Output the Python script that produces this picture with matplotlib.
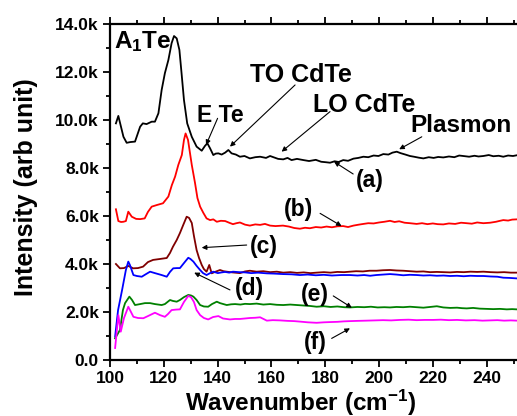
import matplotlib
matplotlib.use('Agg')
import matplotlib.pyplot as plt
from matplotlib.ticker import MultipleLocator, FuncFormatter

plt.rcParams['font.family'] = ['Liberation Sans', 'DejaVu Sans']
plt.rcParams['font.weight'] = 'bold'
plt.rcParams['mathtext.fontset'] = 'custom'
plt.rcParams['mathtext.rm'] = 'Liberation Sans:bold'
plt.rcParams['mathtext.it'] = 'Liberation Sans:bold'
plt.rcParams['mathtext.bf'] = 'Liberation Sans:bold'
plt.rcParams['mathtext.default'] = 'regular'

# ---------------- data ----------------
wn_a = [102.2,103.1,105.0,106.2,107.5,109.3,111.2,112.2,113.6,115.5,116.7,118.0,119.2,120.4,121.7,122.9,123.8,124.8,125.8,126.6,
        127.5,128.7,130.4,132.2,134.1,135.3,136.2,137.2,138.4,139.3,140.3,141.5,142.8,144.0,145.2,146.8,148.3,150.0,152.0,154.0,
        155.8,158.0,159.5,161.0,162.5,164.4,166.0,167.5,169.5,171.9,174.0,176.5,178.5,180.3,181.8,183.5,185.0,186.7,188.5,190.5,
        192.3,194.2,196.0,198.0,199.8,201.6,203.5,205.0,206.6,208.0,209.8,211.5,213.0,214.8,216.5,218.5,220.3,222.0,223.9,226.0,
        228.0,229.8,231.3,233.5,235.5,237.0,238.8,240.8,242.5,244.5,246.2,248.0,249.8,251.2]
int_a = [9860,10170,9300,9050,9080,9100,9720,9860,9830,9930,9930,10280,11250,11950,12500,13200,13500,13400,12920,11950,
         10830,9860,9300,8890,8720,8920,9030,8820,8540,8600,8610,8560,8640,8750,8610,8560,8470,8500,8400,8450,
         8470,8420,8500,8440,8380,8360,8420,8330,8380,8330,8290,8340,8260,8240,8220,8280,8250,8330,8300,8390,
         8420,8470,8450,8520,8500,8580,8560,8640,8680,8620,8560,8500,8470,8430,8400,8450,8420,8460,8440,8480,
         8450,8520,8500,8470,8510,8480,8500,8540,8490,8510,8470,8520,8500,8530]

wn_b = [102.2,103.1,104.1,105.0,105.9,106.8,108.1,109.7,111.2,112.9,114.1,115.5,117.5,119.7,121.7,123.0,124.2,125.4,126.7,127.5,
        128.1,129.0,130.4,131.6,132.5,133.5,134.7,135.9,137.2,138.4,139.7,141.2,142.8,144.3,145.7,147.0,148.3,150.2,152.0,154.0,
        155.8,157.6,159.5,161.5,164.3,166.5,168.5,170.6,172.5,174.3,176.5,178.5,180.5,182.5,184.5,186.7,188.5,190.5,192.5,194.2,
        196.0,198.0,200.0,202.0,204.1,205.8,207.5,209.5,211.5,214.0,216.0,218.0,220.0,221.8,223.9,226.0,228.3,230.5,232.6,234.5,
        236.5,238.8,241.3,243.5,245.0,246.2,248.0,249.5,251.2]
int_b = [6280,5790,5750,5760,5790,6180,5970,5880,5870,5900,6170,6390,6460,6530,6810,7290,7640,8130,8540,9170,
         9440,9170,8130,7380,6750,6390,6130,5900,5830,5860,5760,5800,5790,5720,5660,5700,5730,5640,5600,5650,
         5630,5670,5600,5580,5600,5560,5500,5470,5510,5490,5540,5520,5560,5530,5570,5580,5540,5600,5640,5670,
         5700,5690,5730,5760,5800,5750,5780,5720,5700,5670,5700,5660,5690,5660,5650,5690,5670,5720,5700,5680,
         5730,5700,5720,5760,5800,5830,5810,5850,5860]

wn_c = [102.2,103.7,105.2,106.8,108.6,110.4,112.3,114.1,116.0,118.6,121.1,122.3,123.4,124.8,126.0,127.2,128.5,129.4,130.4,131.2,
        132.2,133.1,134.1,134.9,135.9,136.9,137.8,139.0,140.9,142.2,143.4,145.5,148.3,150.2,152.0,154.5,157.0,159.5,162.0,164.4,
        167.0,169.5,172.0,174.5,176.8,179.5,182.0,184.5,187.0,189.2,191.5,194.0,196.5,199.1,201.5,204.1,206.5,209.0,211.5,214.0,
        216.5,219.0,221.5,224.0,226.4,229.0,231.5,234.0,236.5,238.8,241.5,244.0,246.5,249.0,251.2]
int_c = [4000,3820,3830,3920,3820,3830,3890,4080,4170,4210,4250,4460,4720,5000,5290,5620,5970,5920,5710,5170,
         4580,4250,3960,3790,3680,3960,3610,3670,3750,3700,3680,3650,3620,3690,3720,3680,3700,3660,3680,3640,
         3660,3630,3650,3620,3640,3660,3640,3670,3660,3680,3700,3690,3720,3720,3740,3750,3730,3720,3700,3680,
         3690,3660,3670,3660,3650,3670,3660,3680,3670,3680,3660,3650,3660,3640,3640]

wn_d = [101.9,103.0,104.5,105.9,106.8,107.4,108.7,110.0,111.8,113.4,114.9,116.7,119.2,121.1,122.3,123.5,124.9,126.0,127.5,129.1,
        129.9,131.0,132.2,133.5,134.6,135.9,137.2,138.4,140.1,141.5,142.8,144.3,145.7,148.0,150.2,152.5,155.0,158.3,161.0,164.3,
        167.5,170.6,173.5,176.5,179.5,182.5,186.0,189.2,192.0,194.5,196.7,199.0,201.5,204.1,206.5,209.0,211.5,214.0,216.5,219.0,
        221.5,224.0,226.4,229.0,231.5,234.0,236.5,238.8,241.5,244.0,246.2,248.5,251.2]
int_d = [970,2080,2920,3750,4100,3960,3540,3500,3470,3580,3680,3620,3540,3470,3670,3820,3830,3830,4040,4260,
         4210,4100,3920,3750,3620,3540,3620,3680,3620,3650,3670,3640,3680,3660,3650,3620,3640,3610,3600,3580,
         3570,3540,3560,3530,3550,3520,3540,3540,3520,3540,3510,3540,3560,3580,3560,3530,3550,3540,3520,3530,
         3510,3520,3500,3510,3490,3510,3500,3500,3480,3470,3430,3420,3400]

wn_e = [101.9,103.7,104.8,105.6,107.2,108.2,109.3,111.2,113.0,114.9,116.7,119.2,120.4,122.3,123.4,124.8,126.0,127.5,129.1,130.1,
        131.0,132.2,133.5,134.9,136.5,137.9,139.7,140.9,143.4,145.0,146.5,148.5,150.2,152.0,154.5,157.0,159.5,162.0,164.4,167.0,
        169.5,172.0,174.5,176.8,179.5,182.0,184.5,187.0,189.2,192.0,194.5,197.0,199.5,202.0,204.1,206.5,209.0,211.5,214.0,216.5,
        219.0,221.5,223.9,226.5,229.0,230.8,232.6,235.0,237.5,240.0,242.5,245.0,247.5,249.5,251.2]
int_e = [900,1250,2080,2370,2640,2500,2290,2330,2370,2370,2330,2290,2330,2500,2460,2430,2500,2620,2710,2690,
         2640,2500,2290,2230,2220,2330,2430,2370,2290,2320,2330,2310,2340,2330,2350,2310,2330,2300,2290,2310,
         2290,2270,2250,2220,2240,2210,2230,2200,2190,2210,2200,2220,2190,2200,2190,2210,2200,2220,2200,2180,
         2210,2240,2190,2170,2180,2160,2150,2170,2140,2130,2120,2130,2110,2120,2110]

wn_f = [101.9,103.1,104.0,105.2,106.8,107.8,108.7,110.4,112.4,114.1,116.7,118.6,120.4,121.6,122.9,124.5,126.0,127.5,129.1,130.1,
        131.2,132.2,133.5,134.9,136.5,138.3,140.3,142.0,144.6,146.5,148.3,150.2,152.0,154.0,155.8,158.3,160.5,163.2,166.0,168.5,
        170.6,173.5,176.8,179.5,181.8,184.5,187.0,189.2,192.0,195.4,198.5,201.5,204.5,207.8,211.0,214.0,217.0,220.1,223.0,226.0,
        229.0,232.3,235.5,238.5,241.3,244.0,246.5,249.0,251.2]
int_f = [500,1870,1180,1750,2220,2000,1800,1750,1740,1830,1970,1870,1800,1920,2080,2100,2110,2420,2670,2620,
         2420,2080,1870,1750,1690,1790,1830,1730,1690,1710,1710,1730,1750,1760,1780,1640,1660,1650,1630,1620,
         1600,1570,1550,1570,1580,1590,1610,1620,1630,1640,1650,1660,1650,1670,1680,1660,1670,1670,1680,1660,
         1670,1650,1660,1640,1650,1660,1640,1650,1640]

series = [
    (wn_a, int_a, 'black'),
    (wn_b, int_b, '#ff0000'),
    (wn_c, int_c, '#800000'),
    (wn_d, int_d, '#0000ff'),
    (wn_e, int_e, '#008000'),
    (wn_f, int_f, '#ff00ff'),
]

# ---------------- figure ----------------
fig = plt.figure(figsize=(5.17, 4.16), dpi=100)
ax = fig.add_axes([110/517, 56/416, 407/517, 336/416])

for x, y, c in series:
    ax.plot(x, y, color=c, lw=1.3, solid_joinstyle='round')

ax.set_xlim(100, 251.3)
ax.set_ylim(0, 14000)

ax.xaxis.set_major_locator(MultipleLocator(20))
ax.xaxis.set_minor_locator(MultipleLocator(10))
ax.yaxis.set_major_locator(MultipleLocator(2000))
ax.yaxis.set_minor_locator(MultipleLocator(1000))
ax.yaxis.set_major_formatter(FuncFormatter(lambda v, p: '0.0' if v == 0 else f'{v/1000:.1f}k'))

for s in ['left', 'bottom', 'top']:
    ax.spines[s].set_linewidth(1.6)
ax.spines['right'].set_visible(False)

ax.tick_params(which='major', direction='out', length=5, width=1.3, top=True, right=False,
               labelsize=12.5, pad=3)
ax.tick_params(which='minor', direction='out', length=3, width=1.3, top=True, right=False)
for lab in ax.get_xticklabels() + ax.get_yticklabels():
    lab.set_fontweight('bold')

ax.set_xlabel('Wavenumber (cm$^{-1}$)', fontsize=17.5, fontweight='bold')
ax.xaxis.set_label_coords(0.469, -0.150)
ax.xaxis.label.set_va('baseline')
ax.set_ylabel('Intensity (arb unit)', fontsize=18, fontweight='bold')
ax.yaxis.set_label_coords(-0.207, 0.515)
ax.yaxis.label.set_va('center')

# ---------------- annotations ----------------
tk = dict(fontweight='bold', color='black')
ax.text(112.2, 12990, 'A$_1$Te', fontsize=17.5, ha='center', va='baseline', **tk)
ax.text(141.1, 9930, 'E Te', fontsize=16.5, ha='center', va='baseline', **tk)
ax.text(171.1, 11600, 'TO CdTe', fontsize=18, ha='center', va='baseline', **tk)
ax.text(194.5, 10350, 'LO CdTe', fontsize=18, ha='center', va='baseline', **tk)
ax.text(230.3, 9510, 'Plasmon', fontsize=17.5, ha='center', va='baseline', **tk)
ax.text(196.7, 7500, '(a)', fontsize=16.5, ha='center', va='center', **tk)
ax.text(170.0, 6290, '(b)', fontsize=16.5, ha='center', va='center', **tk)
ax.text(157.2, 4750, '(c)', fontsize=16.5, ha='center', va='center', **tk)
ax.text(151.7, 3000, '(d)', fontsize=16.5, ha='center', va='center', **tk)
ax.text(176.1, 2750, '(e)', fontsize=16.5, ha='center', va='center', **tk)
ax.text(176.2, 730, '(f)', fontsize=16.5, ha='center', va='center', **tk)

arrows = [
    ((135.7, 8960), (140.0, 10070)),
    ((144.6, 8890), (168.8, 11460)),
    ((163.8, 8680), (181.8, 10350)),
    ((207.5, 8780), (215.9, 9300)),
    ((183.3, 8260), (190.4, 7750)),
    ((186.1, 5580), (178.1, 6110)),
    ((134.1, 4680), (150.8, 4790)),
    ((131.3, 3640), (144.6, 2920)),
    ((189.9, 2180), (183.0, 2670)),
    ((189.2, 1320), (182.4, 900)),
]
for head, tail in arrows:
    ax.annotate('', xy=head, xytext=tail,
                arrowprops=dict(arrowstyle='-|>', color='black', lw=0.8,
                                mutation_scale=7, shrinkA=0, shrinkB=0))

fig.savefig('out.png', dpi=100)
